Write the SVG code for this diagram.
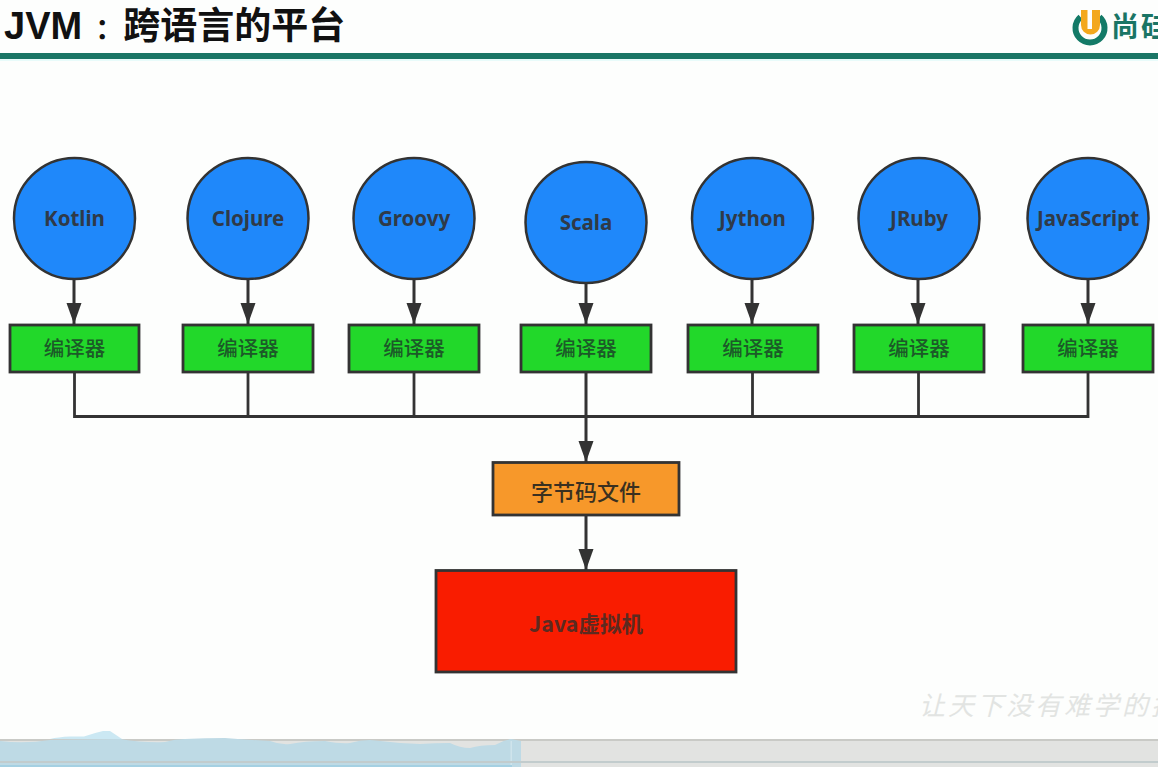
<svg xmlns="http://www.w3.org/2000/svg" width="1158" height="767" viewBox="0 0 1158 767">
<defs>
<marker id="arrow" markerUnits="userSpaceOnUse" markerWidth="21" markerHeight="16" refX="21" refY="8" orient="auto" viewBox="0 0 21 16"><path d="M0 0.500L21 8L0 15.500Z" fill="#333"/></marker>
</defs>
<style>
text{font-family:"Noto Sans CJK SC","Liberation Sans",sans-serif;text-anchor:middle}
.c{fill:#1f88fa;stroke:#333;stroke-width:2.5}
.g{fill:#22d82a;stroke:#333;stroke-width:2.8}
.lang{font-family:"Noto Sans","Noto Sans CJK SC",sans-serif;font-size:20.500px;font-weight:700;fill:#2f3a48}
.lbl{font-size:20.500px;font-weight:500;fill:#1c5a28}
.line{fill:none;stroke:#333;stroke-width:2.8}
.ar{fill:none;stroke:#333;stroke-width:3;marker-end:url(#arrow)}
</style>
<rect width="1158" height="767" fill="#fdfefd"/>
<g id="header">
<rect x="0" y="53" width="1158" height="6" fill="#1a7565"/>
<rect x="0" y="59" width="1158" height="2" fill="#e8fbfa"/>
<text x="4" y="39" style="font-size:37px;font-weight:700;fill:#111;text-anchor:start"><tspan style="font-family:'Liberation Sans',sans-serif;font-size:38px">JVM</tspan><tspan dx="6.700" style="font-size:28px"> ：</tspan><tspan>跨语言的平台</tspan></text>
</g>
<g id="logo">
<path d="M1080.500 17A14.500 14.500 0 1 0 1099.500 17" fill="none" stroke="#137a67" stroke-width="6"/>
<path d="M1081 10H1100V25A9.500 9.500 0 0 1 1081 25Z" fill="#f3a81d"/>
<rect x="1087.500" y="10" width="4.500" height="19" fill="#fdfefd"/>
<text x="1111" y="37" style="font-size:28px;font-weight:700;fill:#1a7565;text-anchor:start;letter-spacing:2px">尚硅</text>
</g>
<g id="connectors">
<path class="ar" d="M74 279V324"/>
<path class="ar" d="M248 279V324"/>
<path class="ar" d="M414 279V324"/>
<path class="ar" d="M586 283V324"/>
<path class="ar" d="M752 279V324"/>
<path class="ar" d="M918 279V324"/>
<path class="ar" d="M1088 279V324"/>
<path class="line" d="M74.500 372V416.500H1088V372"/>
<path class="line" d="M248 372V416.500"/>
<path class="line" d="M414 372V416.500"/>
<path class="line" d="M752.500 372V416.500"/>
<path class="line" d="M918.500 372V416.500"/>
<path class="ar" d="M586 372V462"/>
<path class="ar" d="M586 515V570"/>
</g>
<g id="n-kotlin"><circle class="c" cx="74.500" cy="218.500" r="60.500"/><text class="lang" x="74.500" y="226">Kotlin</text></g>
<g id="n-clojure"><circle class="c" cx="248" cy="218.500" r="60.500"/><text class="lang" x="248" y="226">Clojure</text></g>
<g id="n-groovy"><circle class="c" cx="414" cy="218.500" r="60.500"/><text class="lang" x="414" y="226">Groovy</text></g>
<g id="n-scala"><circle class="c" cx="586" cy="222.500" r="60.500"/><text class="lang" x="586" y="230">Scala</text></g>
<g id="n-jython"><circle class="c" cx="752.500" cy="218.500" r="60.500"/><text class="lang" x="752.500" y="226">Jython</text></g>
<g id="n-jruby"><circle class="c" cx="919" cy="218.500" r="60.500"/><text class="lang" x="919" y="226">JRuby</text></g>
<g id="n-javascript"><circle class="c" cx="1088" cy="218.500" r="60.500"/><text class="lang" x="1088" y="226">JavaScript</text></g>
<g id="c1"><rect class="g" x="10" y="325" width="129" height="47"/><text class="lbl" x="74.500" y="356">编译器</text></g>
<g id="c2"><rect class="g" x="183" y="325" width="130" height="47"/><text class="lbl" x="248" y="356">编译器</text></g>
<g id="c3"><rect class="g" x="349" y="325" width="130" height="47"/><text class="lbl" x="414" y="356">编译器</text></g>
<g id="c4"><rect class="g" x="521" y="325" width="130" height="47"/><text class="lbl" x="586" y="356">编译器</text></g>
<g id="c5"><rect class="g" x="688" y="325" width="130" height="47"/><text class="lbl" x="753" y="356">编译器</text></g>
<g id="c6"><rect class="g" x="854" y="325" width="130" height="47"/><text class="lbl" x="919" y="356">编译器</text></g>
<g id="c7"><rect class="g" x="1023" y="325" width="130" height="47"/><text class="lbl" x="1088" y="356">编译器</text></g>
<g id="bytecode"><rect x="493" y="462.500" width="186" height="52.500" fill="#f7982a" stroke="#333" stroke-width="2.800"/><text x="586" y="500" style="font-size:22px;font-weight:500;fill:#3a3020">字节码文件</text></g>
<g id="jvm"><rect x="436" y="570.500" width="300" height="101.500" fill="#f91c00" stroke="#333" stroke-width="2.800"/><text x="586" y="632" style="font-size:21.500px;font-weight:700;fill:#5c2a20">Java虚拟机</text></g>
<g id="watermark"><text x="919" y="715" style="font-size:26px;fill:#e2e4e2;letter-spacing:3px;text-anchor:start;font-style:italic">让天下没有难学的技</text></g>
<g id="bottom">
<rect x="0" y="739" width="1158" height="28" fill="#e2e3e1"/>
<rect x="0" y="739" width="1158" height="2" fill="#c9cac6"/>
<path d="M50 739Q58 737 70 736.500H84Q94 733 103 731H110L122 739Z" fill="#cbe8f3"/>
<path d="M0 741Q25 744 50 740L120 739Q145 743 165 742Q175 739 185 739Q205 738 225 738Q250 740 270 741Q280 745 290 744Q305 741 325 741Q340 744 350 743Q360 740 370 740Q395 743 420 744Q435 743 450 743Q460 748 470 748Q480 745 495 745Q503 740 511 739L521 741V767H0Z" fill="#bedae5"/>
<rect x="510.500" y="741" width="1.500" height="24" fill="#cfe4ec"/>
<rect x="0" y="761" width="1158" height="2" fill="#c2cccd"/>
<rect x="0" y="765" width="512" height="2" fill="#a5d0e2"/>
</g>
</svg>
